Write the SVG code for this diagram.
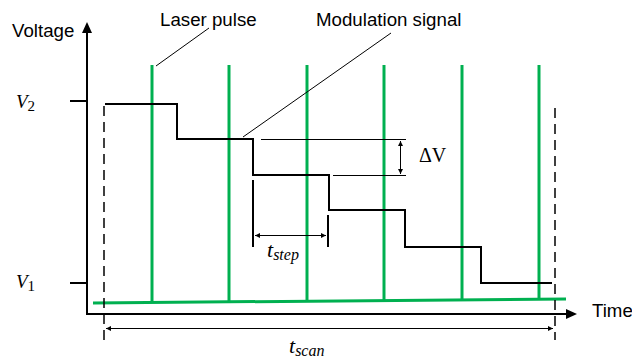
<svg xmlns="http://www.w3.org/2000/svg" width="632" height="360" viewBox="0 0 632 360">
<style>
.lbl{font-family:"Liberation Sans",Arial,sans-serif;font-size:18.7px;fill:#000}
.math{font-family:"Liberation Serif","Times New Roman",serif;font-style:italic;fill:#000}
.up{font-family:"Liberation Serif","Times New Roman",serif;font-style:normal;fill:#000}
.ax{stroke:#000;stroke-width:2;fill:none}
.sig{stroke:#000;stroke-width:2;fill:none}
.thin{stroke:#000;stroke-width:1;fill:none}
.dash{stroke:#000;stroke-width:1.5;stroke-dasharray:10 6;fill:none}
.pulse{stroke:#00b050;stroke-width:3;fill:none}
</style>
<defs>
<marker id="ah" markerWidth="6" markerHeight="6" refX="5" refY="3" orient="auto-start-reverse" markerUnits="userSpaceOnUse">
<path d="M0,0.5 L5,3 L0,5.5 Z" fill="#000"/>
</marker>
</defs>
<rect width="632" height="360" fill="#fff"/>
<g id="axes">
<line class="ax" x1="87" y1="32" x2="87" y2="315"/>
<path d="M82,33 L87,22 L92,33 Z" fill="#000"/>
<line class="ax" x1="86" y1="314" x2="568" y2="314"/>
<path d="M566,309 L577,314 L566,319 Z" fill="#000"/>
<line class="ax" x1="70" y1="101" x2="87" y2="101"/>
<line class="ax" x1="70" y1="283" x2="87" y2="283"/>
</g>
<g id="pulses">
<line class="pulse" x1="93" y1="303" x2="566" y2="299"/>
<line class="pulse" x1="152" y1="65" x2="152" y2="302"/>
<line class="pulse" x1="229" y1="65" x2="229" y2="301"/>
<line class="pulse" x1="307" y1="65" x2="307" y2="301"/>
<line class="pulse" x1="384" y1="65" x2="384" y2="300"/>
<line class="pulse" x1="462" y1="65" x2="462" y2="300"/>
<line class="pulse" x1="539" y1="65" x2="539" y2="300"/>
</g>
<g id="signal">
<path class="sig" d="M105,104 H177 V139 H253 V175 H329 V210 H405 V247 H481 V283 H552"/>
</g>
<g id="connectors">
<line class="dash" x1="104" y1="106" x2="104" y2="340"/>
<line class="dash" x1="555" y1="108" x2="555" y2="340"/>
<line class="thin" x1="209" y1="28" x2="156" y2="66"/>
<line class="thin" x1="391" y1="33" x2="243" y2="137"/>
<line class="thin" x1="261" y1="139.5" x2="406" y2="139.5"/>
<line class="thin" x1="333" y1="175.5" x2="406" y2="175.5"/>
<line class="thin" x1="400.5" y1="141" x2="400.5" y2="174" marker-start="url(#ah)" marker-end="url(#ah)"/>
<line class="ax" x1="253" y1="180" x2="253" y2="247"/>
<line class="ax" x1="328" y1="215" x2="328" y2="247"/>
<line class="thin" x1="255" y1="235.5" x2="326" y2="235.5" marker-start="url(#ah)" marker-end="url(#ah)"/>
<line class="thin" x1="106" y1="328.5" x2="553" y2="328.5" marker-start="url(#ah)" marker-end="url(#ah)"/>
</g>
<g id="labels">
<text class="lbl" x="12" y="37">Voltage</text>
<text class="lbl" x="160" y="26">Laser pulse</text>
<text class="lbl" x="316" y="26">Modulation signal</text>
<text class="lbl" x="592" y="317">Time</text>
<text class="math" x="16" y="108" font-size="19">V<tspan class="up" font-size="15" dy="3">2</tspan></text>
<text class="math" x="16" y="288" font-size="19">V<tspan class="up" font-size="15" dy="3">1</tspan></text>
<text class="up" x="419" y="162" font-size="20">ΔV</text>
<text class="math" x="267" y="257" font-size="22">t<tspan font-size="16" dy="3">step</tspan></text>
<text class="math" x="289" y="353" font-size="22">t<tspan font-size="16" dy="3">scan</tspan></text>
</g>
</svg>
